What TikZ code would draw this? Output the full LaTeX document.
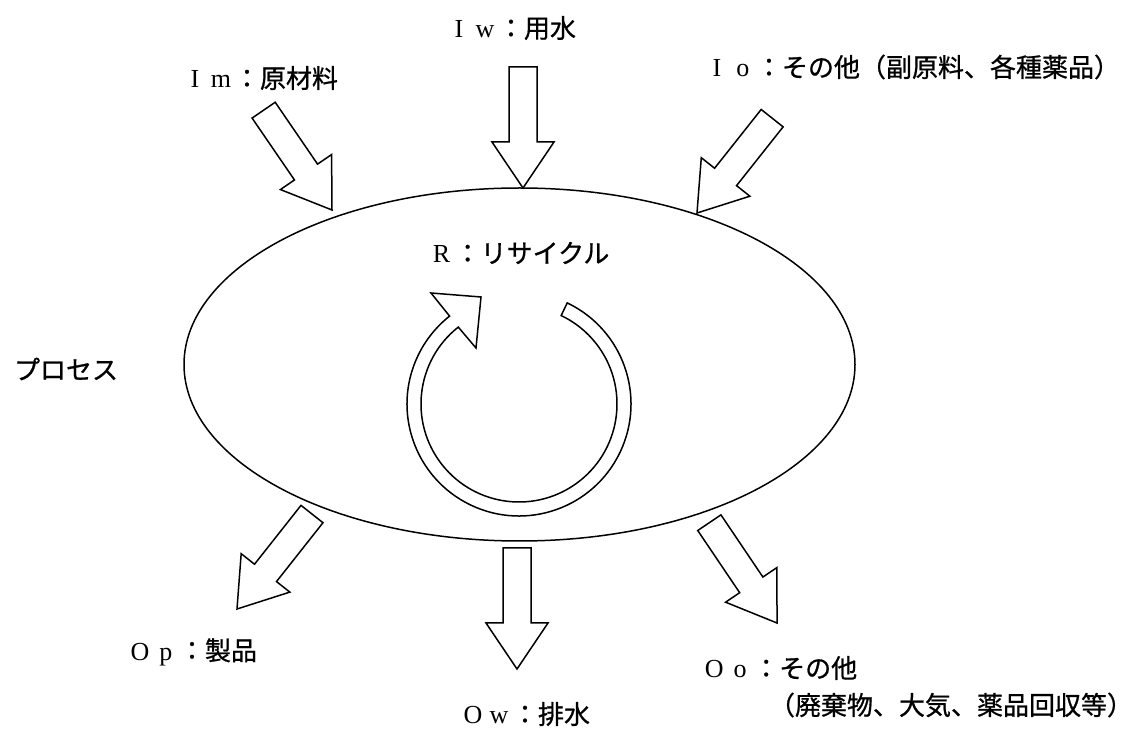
\documentclass[tikz,border=0pt]{standalone}
\usepackage{fontspec}
\setmainfont{Liberation Serif}
\newfontfamily\jp[FakeBold=0.8]{Noto Sans CJK JP}
\usetikzlibrary{shapes.geometric}
\newcommand{\fw}[1]{\makebox[1em]{\rmfamily #1}}
\tikzset{
  blk/.style={draw=black, line width=1.5pt, fill=white, line join=miter},
  lbl/.style={font=\fontsize{26}{31}\selectfont\jp, inner sep=0pt},
  pics/barrow/.style={code={
    \draw[blk] (0,0) -- (-46,31) -- (-46,14) -- (-121,14) -- (-121,-14)
      -- (-46,-14) -- (-46,-31) -- cycle;}}
}
\begin{document}
\begin{tikzpicture}[x=1pt,y=1pt]
\useasboundingbox (0,0) rectangle (1136,729);
% process ellipse
\node[ellipse, draw, line width=1.5pt, minimum width=671pt, minimum height=353pt,
      inner sep=0pt, outer sep=0pt] (proc) at (519.5,364.5) {};
% arrow tips
\coordinate (tIm) at (332,519);
\coordinate (tIw) at (523,541);
\coordinate (tIo) at (697,516);
\coordinate (tOp) at (237,120);
\coordinate (tOw) at (517,60);
\coordinate (tOo) at (777,106);
\pic[rotate=-55.6] at (tIm) {barrow};
\pic[rotate=-90] at (tIw) {barrow};
\pic[rotate=-128.4] at (tIo) {barrow};
\pic[rotate=-128.3] at (tOp) {barrow};
\pic[rotate=-90] at (tOw) {barrow};
\pic[rotate=-56] at (tOo) {barrow};
% recycle ring
\coordinate (c) at (519,325);
\draw[blk] ([shift={(64.5:112pt)}]c) arc[start angle=64.5, end angle=-231.7, radius=112pt]
  -- (431,436) -- (481,432) -- (476,381) -- ([shift={(128.3:98pt)}]c)
  arc[start angle=128.3, end angle=424.5, radius=98pt] -- cycle;
% labels
\node[lbl] (lIm) at (260,651) {\fw{I}\fw{m}：原材料};
\node[lbl] (lIw) at (511,701) {\fw{I}\fw{w}：用水};
\node[lbl] (lIo) at (912,662) {\fw{I}\fw{o}：その他（副原料、各種薬品）};
\node[lbl] (lR) at (519,476) {\fw{R}：リサイクル};
\node[lbl] (lP) at (66,360) {プロセス};
\node[lbl] (lOp) at (192,77) {\fw{O}\fw{p}：製品};
\node[lbl] (lOw) at (525,15) {\fw{O}\fw{w}：排水};
\node[lbl, anchor=west] (lOo) at (701,61) {\fw{O}\fw{o}：その他};
\node[lbl] (lOo2) at (951,24) {（廃棄物、大気、薬品回収等）};
\end{tikzpicture}
\end{document}
